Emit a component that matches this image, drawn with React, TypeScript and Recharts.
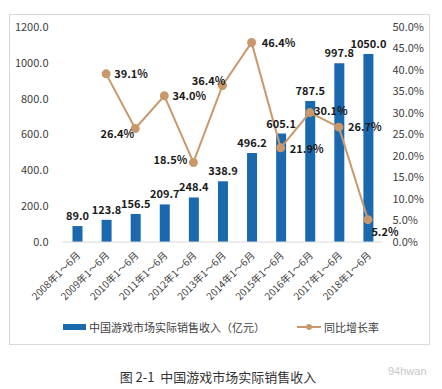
import { ComposedChart, Bar, Line, XAxis, YAxis, Legend, LabelList } from 'recharts';

const periods = [
  '2008年1～6月', '2009年1～6月', '2010年1～6月', '2011年1～6月', '2012年1～6月', '2013年1～6月',
  '2014年1～6月', '2015年1～6月', '2016年1～6月', '2017年1～6月', '2018年1～6月',
];
const revenue = [89.0, 123.8, 156.5, 209.7, 248.4, 338.9, 496.2, 605.1, 787.5, 997.8, 1050.0];
const growth = [null, 39.1, 26.4, 34.0, 18.5, 36.4, 46.4, 21.9, 30.1, 26.7, 5.2];
const leftTicks = [0, 200, 400, 600, 800, 1000, 1200];
const rightTicks = [0, 5, 10, 15, 20, 25, 30, 35, 40, 45, 50];

// where each growth label sits relative to its point
const growthLabelOffset: [number, number][] = [
  [0, 0], [25, 0], [-18, 6], [25, 0], [-23, -2], [-14, -4], [27, 1], [26, 1], [21, -2], [26, 0], [17, 12],
];

const BAR_COLOR = '#1a69ae';
const LINE_COLOR = '#c9986b';

const data = periods.map((p, i) => ({ name: p, revenue: revenue[i], growth: growth[i] }));

const GrowthLabel = (props: any) => {
  const { x, y, value, index } = props;
  if (value == null) return null;
  const [dx, dy] = growthLabelOffset[index];
  return (
    <text x={x + dx} y={y + dy} dy={4} textAnchor="middle" fontSize={11} fontWeight="bold" fill="#1a1a1a">
      {value.toFixed(1)}%
    </text>
  );
};

const XTick = (props: any) => {
  const { x, y, payload } = props;
  return (
    <text x={x + 4} y={y + 6} textAnchor="end" fontSize={10} fill="#404040" transform={`rotate(-45, ${x + 4}, ${y + 6})`}>
      {payload.value}
    </text>
  );
};

const LegendContent = () => (
  <div style={{ display: 'flex', justifyContent: 'center', alignItems: 'center', height: 30, fontSize: 11, color: '#404040' }}>
    <span style={{ display: 'inline-block', width: 23, height: 6, background: BAR_COLOR, marginRight: 3 }} />
    <span>中国游戏市场实际销售收入（亿元）</span>
    <svg width={24} height={10} style={{ marginLeft: 32, marginRight: 3 }}>
      <line x1={0} y1={5} x2={24} y2={5} stroke={LINE_COLOR} strokeWidth={2} />
      <circle cx={12} cy={5} r={3} fill={LINE_COLOR} />
    </svg>
    <span>同比增长率</span>
  </div>
);

export default function App() {
  return (
    <div style={{ position: 'absolute', left: 0, top: 0, width: 442, height: 389, background: '#fff', fontFamily: '"Noto Sans CJK SC", "Noto Sans", sans-serif' }}>
      <div style={{ position: 'absolute', left: 9, top: 14, width: 421, height: 331, border: '1px solid #d9d9d9', boxSizing: 'border-box' }} />
      <div style={{ position: 'absolute', left: 0, top: 0 }}>
        <ComposedChart width={442} height={350} data={data} margin={{ top: 27, right: 10, left: 10, bottom: 8 }}>
          <XAxis dataKey="name" height={70} interval={0} tick={<XTick />} tickLine={false} axisLine={{ stroke: '#d9d9d9' }} />
          <YAxis yAxisId="left" width={52.5} domain={[0, 1200]} ticks={leftTicks} axisLine={false} tickLine={false} tickSize={0} tickMargin={14}
            tick={{ fontSize: 11, fill: '#404040' }} tickFormatter={(v: number) => v.toFixed(1)} />
          <YAxis yAxisId="right" orientation="right" width={49.5} domain={[0, 50]} ticks={rightTicks} axisLine={false} tickLine={false} tickSize={0} tickMargin={10}
            tick={{ fontSize: 11, fill: '#404040', textAnchor: 'start' }} tickFormatter={(v: number) => `${v.toFixed(1)}%`} />
          <Legend verticalAlign="bottom" content={<LegendContent />} />
          <Bar yAxisId="left" dataKey="revenue" fill={BAR_COLOR} barSize={10} isAnimationActive={false}>
            <LabelList dataKey="revenue" position="top" offset={6} fontSize={11} fontWeight="bold" fill="#1a1a1a" formatter={(v: any) => Number(v).toFixed(1)} />
          </Bar>
          <Line yAxisId="right" dataKey="growth" stroke={LINE_COLOR} strokeWidth={2} dot={{ r: 3.5, fill: LINE_COLOR, stroke: LINE_COLOR }} isAnimationActive={false} connectNulls={false}>
            <LabelList dataKey="growth" content={<GrowthLabel />} />
          </Line>
        </ComposedChart>
      </div>
      <div style={{ position: 'absolute', left: 0, width: 436, top: 367, textAlign: 'center', fontSize: 13, color: '#333' }}>
        图 2-1&nbsp;&nbsp;中国游戏市场实际销售收入
      </div>
      <div style={{ position: 'absolute', left: 388, top: 365, fontSize: 11, color: '#c8c8c8', fontFamily: 'Arial, "Liberation Sans", sans-serif' }}>
        94hwan
      </div>
    </div>
  );
}
